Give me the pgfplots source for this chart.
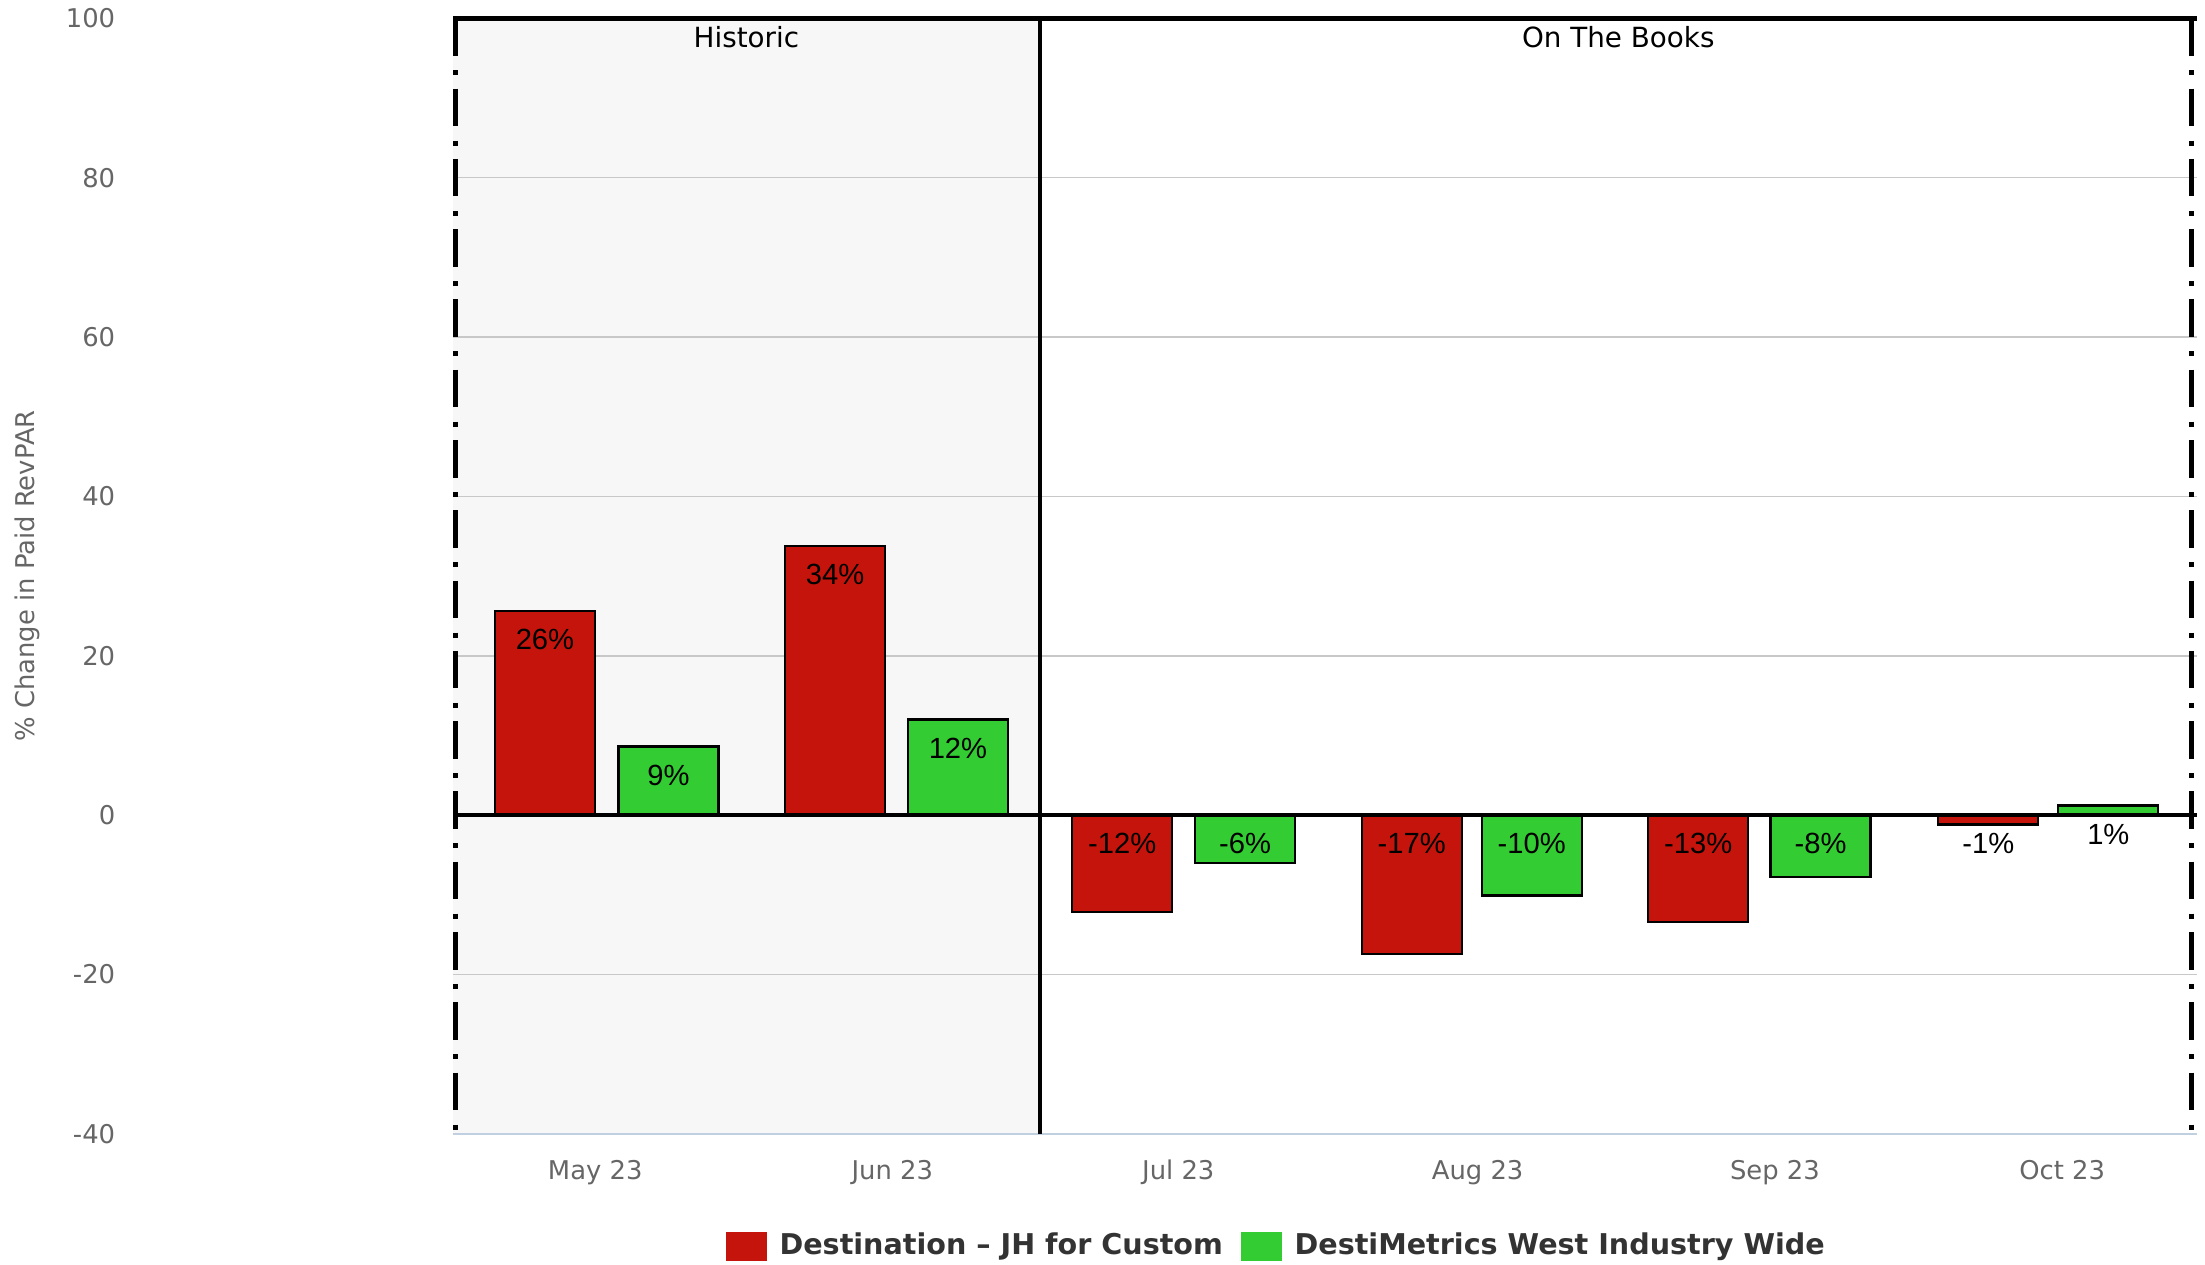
\documentclass[border=0pt]{standalone}
\usepackage{pgfplots}
\pgfplotsset{compat=1.18}
\usepackage{fontspec}
\setmainfont{DejaVu Sans}
\newfontfamily\arialfont{Liberation Sans}
\usetikzlibrary{calc}
\definecolor{barred}{RGB}{196,20,12}
\definecolor{bargreen}{RGB}{51,204,51}
\definecolor{histbg}{RGB}{247,247,247}
\definecolor{gridgray}{RGB}{200,200,200}
\definecolor{labgray}{RGB}{102,102,102}
\definecolor{leggray}{RGB}{51,51,51}
\definecolor{botline}{RGB}{192,208,224}
\begin{document}
\begin{tikzpicture}
\begin{axis}[
  set layers=standard,
  scale only axis,
  width=627.75pt, height=401.5pt,
  xmin=-0.5, xmax=5.5, ymin=-40, ymax=100,
  enlargelimits=false,
  clip=false,
  axis line style={draw=none},
  major tick length=0pt,
  tick style={draw=none},
  xtick={-0.01,1.012,1.996,3.026,4.049,5.037},
  xticklabels={May 23,Jun 23,Jul 23,Aug 23,Sep 23,Oct 23},
  ytick={-40,-20,0,20,40,60,80,100},
  /pgf/number format/assume math mode=true,
  ticklabel style={font=\fontsize{9.3}{11}\selectfont, text=labgray},
  yticklabel style={xshift=-118pt},
  xticklabel style={yshift=-6pt},
  ymajorgrids,
  grid style={gridgray, line width=0.6pt},
  legend style={at={(0.5,0)}, anchor=center, xshift=-16.7pt, yshift=-40.5pt,
    draw=none, fill=none, font=\fontsize{10.3}{12}\selectfont\bfseries, text=leggray,
    /tikz/every even column/.append style={column sep=4.6pt},
    /tikz/every odd column/.append style={column sep=2.4pt}},
  legend columns=-1,
]
\begin{pgfonlayer}{axis background}
\fill[histbg] (axis cs:-0.5,-40) rectangle (axis cs:1.521,100);
\end{pgfonlayer}

\addplot[ybar, bar width=0.344, bar shift=0, fill=barred, draw=black, line width=0.8pt,
  legend image code/.code={\fill[barred] (3.5pt,-4.8pt) rectangle (17.5pt,4.8pt);}]
  coordinates {(-0.183,25.6) (0.815,33.8) (1.803,-12.2) (2.799,-17.4) (3.785,-13.4) (4.783,-1.2)};
\addlegendentry{Destination -- JH for Custom}
\addplot[ybar, bar width=0.344, bar shift=0, fill=bargreen, draw=black, line width=0.8pt,
  legend image code/.code={\fill[bargreen] (3.5pt,-4.8pt) rectangle (17.5pt,4.8pt);}]
  coordinates {(0.242,8.6) (1.238,12.0) (2.226,-6.0) (3.212,-10.1) (4.206,-7.8) (5.196,1.2)};
\addlegendentry{DestiMetrics West Industry Wide}

\addplot[draw=none, forget plot, nodes near coords, point meta=explicit symbolic,
  nodes near coords style={anchor=center, yshift=-10.3pt, font=\arialfont\fontsize{10.5}{12}\selectfont, text=black}]
  coordinates {(-0.183,25.6)[26\%] (0.815,33.8)[34\%] (1.803,0)[-12\%] (2.799,0)[-17\%] (3.785,0)[-13\%] (4.783,0)[-1\%]};
\addplot[draw=none, forget plot, nodes near coords, point meta=explicit symbolic,
  nodes near coords style={anchor=center, yshift=-10.3pt, font=\arialfont\fontsize{10.5}{12}\selectfont, text=black}]
  coordinates {(0.242,8.6)[9\%] (1.238,12.0)[12\%] (2.226,0)[-6\%] (3.212,0)[-10\%] (4.206,0)[-8\%] (5.196,1.2)[1\%]};

% decorations
\draw[botline, line width=0.7pt] (rel axis cs:0,0) -- (rel axis cs:1,0);
\draw[black, line width=1.5pt] (axis cs:-0.5,0) -- (axis cs:5.5,0);
\draw[black, line width=1.3pt] (axis cs:1.521,-40) -- (axis cs:1.521,100);
\draw[black, line width=1.8pt, dash pattern=on 13.5pt off 5.2pt on 1.8pt off 4.8pt]
  ([xshift=1pt]rel axis cs:0,1) -- ([xshift=1pt]rel axis cs:0,0);
\draw[black, line width=1.8pt, dash pattern=on 13.5pt off 5.2pt on 1.8pt off 4.8pt]
  ([xshift=-2pt]rel axis cs:1,1) -- ([xshift=-2pt]rel axis cs:1,0);
\draw[black, line width=1.9pt] (rel axis cs:0,1) -- (rel axis cs:1,1);

\node[font=\fontsize{10}{12}\selectfont, text=black] at ([yshift=-6.6pt]axis cs:0.51,100) {Historic};
\node[font=\fontsize{10}{12}\selectfont, text=black] at ([yshift=-6.6pt]axis cs:3.51,100) {On The Books};
\node[rotate=90, font=\fontsize{9.3}{11}\selectfont, text=labgray] at ([xshift=-153pt]rel axis cs:0,0.5) {\% Change in Paid RevPAR};

\coordinate (SW) at (rel axis cs:0,0);
\coordinate (NE) at (rel axis cs:1,1);
\end{axis}
\pgfresetboundingbox
\path[use as bounding box] ([shift={(-163pt,-47.1pt)}]SW) rectangle ([shift={(3pt,6.6pt)}]NE);
\end{tikzpicture}
\end{document}
